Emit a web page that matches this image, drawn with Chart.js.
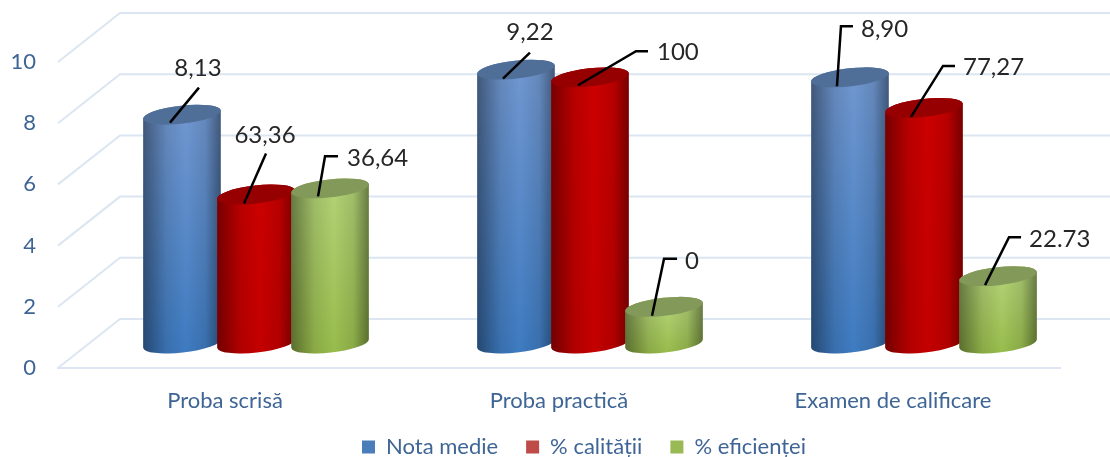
<!DOCTYPE html>
<html>
<head>
<meta charset="utf-8">
<title>Rezultate</title>
<script src="https://cdn.jsdelivr.net/npm/chart.js@4/dist/chart.umd.min.js"></script>
<style>
  html, body { margin: 0; padding: 0; background: #fff; }
  canvas { display: block; }
</style>
</head>
<body>
<canvas id="chart" width="1110" height="457"></canvas>
<script>
const categories = ['Proba scrisă', 'Proba practică', 'Examen de calificare'];
const seriesNames = ['Nota medie', '% calității', '% eficienței'];
const yTicks = [0, 2, 4, 6, 8, 10];

// bar heights (they don't follow the printed labels)
const notaMedie = [7.48, 8.95, 8.7];
const calitate = [4.87, 8.7, 7.7];
const eficienta = [5.07, 1.2, 2.2];

// text of the data labels, exactly as printed
const labelsNota = ['8,13', '9,22', '8,90'];
const labelsCalitate = ['63,36', '100', '77,27'];
const labelsEficienta = ['36,64', '0', '22.73'];

const TEXT = '#3e6595';
const FONT = 'Lato';
const GRID = '#dce6f2';

// 3D look: how far the back wall sits from the front plane
const DEPTH_X = 62;
const DEPTH_Y = 49;

const looks = [
  { top: '#7097d0', bottom: '#3e7bc1', cap: '#4f6f98', legend: '#4a7ebb' },
  { top: '#cc0000', bottom: '#c40000', cap: '#960000', legend: '#be4b48' },
  { top: '#b2d275', bottom: '#98bc4c', cap: '#82995a', legend: '#98b954' }
];

// leader lines, relative to the centre of each cylinder top: [line points], [label x, y], label align
const leaders = [
  [
    { pts: [[-12, 8], [17, -27]], at: [16, -46], align: 'center' },
    { pts: [[-13, 9], [14, -17]], at: [14, -37], align: 'center' },
    { pts: [[-13, 9], [-9, -51], [3, -51]], at: [11, -48], align: 'left' }
  ],
  [
    { pts: [[-12, 9], [10, -41]], at: [9, -59], align: 'center' },
    { pts: [[-12, 8], [46, -26], [58, -26]], at: [67, -25], align: 'left' },
    { pts: [[-13, 9], [19, -42], [31, -42]], at: [39, -41], align: 'left' }
  ],
  [
    { pts: [[-12, 8], [-5, -32], [8, -32]], at: [17, -30], align: 'left' },
    { pts: [[-12, 9], [0, -48], [13, -48]], at: [21, -46], align: 'left' },
    { pts: [[-13, 9], [11, -39], [23, -39]], at: [31, -37], align: 'left' }
  ]
];

const allLabels = [labelsNota, labelsCalitate, labelsEficienta];

function drawCylinder(ctx, cx, topY, baseY, rx, look) {
  const ry = 9;
  const rot = -0.11;

  ctx.beginPath();
  ctx.ellipse(cx, topY, rx, ry, rot, Math.PI, 2 * Math.PI);
  ctx.ellipse(cx, baseY, rx, ry, rot, 0, Math.PI);
  ctx.closePath();

  const vert = ctx.createLinearGradient(0, topY, 0, baseY + ry);
  vert.addColorStop(0, look.top);
  vert.addColorStop(1, look.bottom);
  ctx.fillStyle = vert;
  ctx.fill();

  // darker towards both edges
  const horiz = ctx.createLinearGradient(cx - rx, 0, cx + rx, 0);
  horiz.addColorStop(0, 'rgba(0,0,0,0.42)');
  horiz.addColorStop(0.3, 'rgba(0,0,0,0.1)');
  horiz.addColorStop(0.55, 'rgba(0,0,0,0)');
  horiz.addColorStop(0.8, 'rgba(0,0,0,0.1)');
  horiz.addColorStop(1, 'rgba(0,0,0,0.42)');
  ctx.fillStyle = horiz;
  ctx.fill();

  ctx.beginPath();
  ctx.ellipse(cx, topY, rx, ry, rot, 0, 2 * Math.PI);
  ctx.fillStyle = look.cap;
  ctx.fill();
}

const scene3d = {
  id: 'scene3d',
  // legend text sits close to the bottom edge, so only reserve the part above it
  beforeLayout(chart) {
    const legend = chart.legend;
    if (legend.fitWrapped) return;
    const fit = legend.fit;
    legend.fit = function () {
      fit.call(this);
      this.height = 41;
    };
    legend.fitWrapped = true;
  },
  // legend is centred under the back wall, not under the front plane
  afterLayout(chart) {
    const legend = chart.legend;
    legend.left += 54;
    legend.right += 54;
    legend.top -= 8;
    legend.bottom = chart.height;
  },
  // walls behind the bars, one line per y tick
  beforeDatasetsDraw(chart) {
    const { ctx, chartArea, scales } = chart;
    ctx.save();
    ctx.strokeStyle = GRID;
    ctx.lineWidth = 2;
    scales.y.ticks.forEach((t) => {
      const y = scales.y.getPixelForValue(t.value);
      ctx.beginPath();
      ctx.moveTo(chartArea.left, y);
      ctx.lineTo(chartArea.left + DEPTH_X, y - DEPTH_Y);
      ctx.lineTo(chartArea.right + DEPTH_X, y - DEPTH_Y);
      ctx.stroke();
    });
    ctx.restore();
  },
  // the flat bars are replaced by cylinders below
  beforeDatasetDraw() {
    return false;
  },
  afterDatasetsDraw(chart) {
    const { ctx } = chart;
    ctx.save();
    // cylinders stand halfway into the floor
    const dx = DEPTH_X / 2;
    const dy = DEPTH_Y / 2;
    chart.data.datasets.forEach((ds, i) => {
      chart.getDatasetMeta(i).data.forEach((bar) => {
        drawCylinder(ctx, bar.x + dx, bar.y - dy, bar.base - dy, bar.width / 2 + 2, looks[i]);
      });
    });
    ctx.font = '24px ' + FONT;
    ctx.textBaseline = 'middle';
    chart.data.datasets.forEach((ds, i) => {
      chart.getDatasetMeta(i).data.forEach((bar, j) => {
        const cx = bar.x + dx;
        const cy = bar.y - dy;
        const l = leaders[i][j];
        ctx.strokeStyle = '#000';
        ctx.lineWidth = 2.5;
        ctx.beginPath();
        l.pts.forEach((p, k) => {
          if (k === 0) ctx.moveTo(cx + p[0], cy + p[1]);
          else ctx.lineTo(cx + p[0], cy + p[1]);
        });
        ctx.stroke();
        ctx.fillStyle = '#262626';
        ctx.textAlign = l.align;
        ctx.fillText(allLabels[i][j], cx + l.at[0], cy + l.at[1]);
      });
    });
    ctx.restore();
  }
};

new Chart(document.getElementById('chart'), {
  type: 'bar',
  data: {
    labels: categories,
    datasets: [
      { label: seriesNames[0], data: notaMedie, backgroundColor: looks[0].legend },
      { label: seriesNames[1], data: calitate, backgroundColor: looks[1].legend },
      { label: seriesNames[2], data: eficienta, backgroundColor: looks[2].legend }
    ]
  },
  plugins: [scene3d],
  options: {
    responsive: false,
    animation: false,
    layout: { padding: { top: 62, right: 50, bottom: 0, left: 0 } },
    datasets: { bar: { categoryPercentage: 0.665, barPercentage: 1 } },
    scales: {
      x: {
        grid: { display: false },
        border: { display: true, color: GRID, width: 2 },
        ticks: { color: TEXT, font: { family: FONT, size: 22 }, padding: 12, maxRotation: 0 },
        afterFit(scale) { scale.height = 48; }
      },
      y: {
        min: 0,
        max: 10,
        grid: { display: false, drawTicks: false },
        border: { display: false },
        afterBuildTicks(scale) { scale.ticks = yTicks.map((v) => ({ value: v })); },
        ticks: { color: TEXT, font: { family: FONT, size: 22 }, padding: 22 },
        afterFit(scale) { scale.width = 58; }
      }
    },
    plugins: {
      legend: {
        position: 'bottom',
        labels: {
          boxWidth: 13,
          boxHeight: 13,
          padding: 28,
          color: TEXT,
          font: { family: FONT, size: 22 }
        }
      },
      tooltip: { enabled: false }
    }
  }
});
</script>
</body>
</html>
